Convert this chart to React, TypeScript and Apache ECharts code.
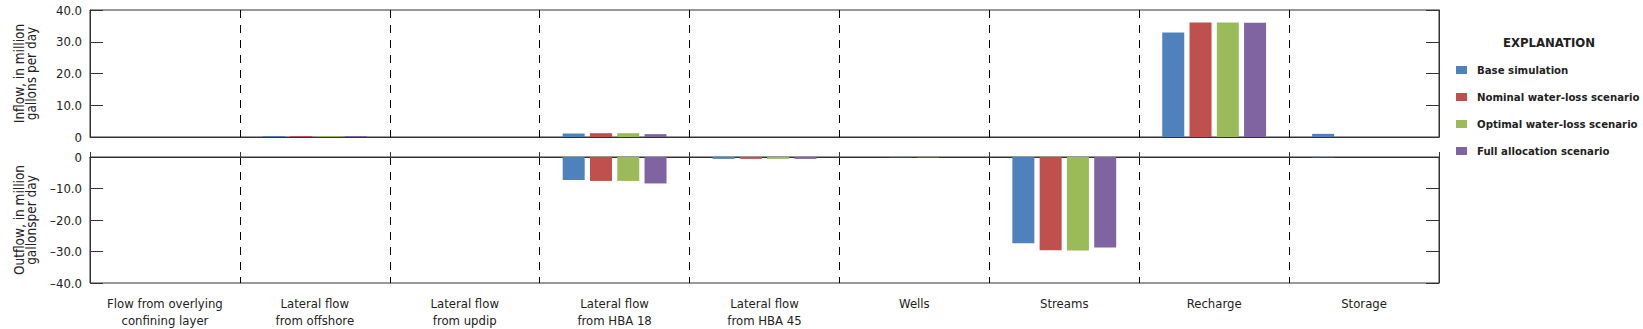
import React, { useEffect, useRef } from "react";
import * as echarts from "echarts";

const categories = [
  "Flow from overlying\nconfining layer",
  "Lateral flow\nfrom offshore",
  "Lateral flow\nfrom updip",
  "Lateral flow\nfrom HBA 18",
  "Lateral flow\nfrom HBA 45",
  "Wells",
  "Streams",
  "Recharge",
  "Storage",
];

const seriesNames = [
  "Base simulation",
  "Nominal water-loss scenario",
  "Optimal water-loss scenario",
  "Full allocation scenario",
];
const colors = ["#4F81BD", "#C0504D", "#9BBB59", "#8064A2"];

const baseInflow = [0, 0.3, 0, 1.1, 0, 0, 0, 32.9, 1.0];
const nominalInflow = [0, 0.3, 0, 1.2, 0, 0, 0, 36.1, 0];
const optimalInflow = [0, 0.3, 0, 1.2, 0, 0, 0, 36.1, 0];
const fullInflow = [0, 0.3, 0, 0.9, 0, 0, 0, 36.0, 0];

const baseOutflow = [0, 0, 0, -7.3, -0.6, 0, -27.4, 0, -0.1];
const nominalOutflow = [0, 0, 0, -7.6, -0.6, -0.1, -29.6, 0, 0];
const optimalOutflow = [0, 0, 0, -7.6, -0.6, -0.1, -29.7, 0, 0];
const fullOutflow = [0, 0, 0, -8.4, -0.6, 0, -28.7, 0, 0];

const inflowTicks = [0, 10, 20, 30, 40];
const outflowTicks = [-40, -30, -20, -10, 0];

const FONT = '"Liberation Sans Narrow", "DejaVu Sans Condensed", "Arial Narrow", sans-serif';
const TEXT = "#222";
const LINE = "#333";

const fmt = (v: number) => (v === 0 ? "0" : (v < 0 ? "\u2013" : "") + Math.abs(v).toFixed(1));

export default function App() {
  const ref = useRef<HTMLDivElement>(null);
  useEffect(() => {
    document.body.style.margin = "0";
    if (!ref.current) return;
    const chart = echarts.init(ref.current, undefined, { renderer: "svg" });

    const inflowData = [baseInflow, nominalInflow, optimalInflow, fullInflow];
    const outflowData = [baseOutflow, nominalOutflow, optimalOutflow, fullOutflow];

    const catAxis = (gridIndex: number, showLabels: boolean) => ({
      type: "category",
      gridIndex,
      data: categories,
      axisLine: { show: true, lineStyle: { color: LINE, width: 1 } },
      axisTick: { show: showLabels, inside: true, length: 5, lineStyle: { color: LINE } },
      axisLabel: {
        show: showLabels,
        interval: 0,
        margin: 12,
        fontFamily: FONT,
        fontSize: 13,
        lineHeight: 17,
        color: TEXT,
      },
      splitLine: { show: true, lineStyle: { color: "#000", width: 1, type: [8, 7] } },
    });

    const valAxis = (gridIndex: number, min: number, max: number, position: string, name: string) => ({
      type: "value",
      gridIndex,
      min,
      max,
      interval: 10,
      position,
      name,
      nameLocation: "middle",
      nameGap: 53,
      nameRotate: 90,
      nameTextStyle: { fontFamily: FONT, fontSize: 13.5, color: TEXT, lineHeight: 12 },
      axisLine: { show: true, lineStyle: { color: LINE, width: 1 } },
      axisTick: { show: true, inside: true, length: 13, lineStyle: { color: LINE } },
      axisLabel: {
        show: position === "left",
        margin: 8,
        fontFamily: FONT,
        fontSize: 13,
        color: TEXT,
        formatter: (v: number) => fmt(v),
      },
      splitLine: { show: false },
    });

    const series: any[] = [];
    seriesNames.forEach((n, i) => {
      series.push({
        name: n,
        type: "bar",
        xAxisIndex: 0,
        yAxisIndex: 0,
        data: inflowData[i],
        barWidth: 22,
        barGap: "24%",
        itemStyle: { color: colors[i] },
      });
    });
    seriesNames.forEach((n, i) => {
      series.push({
        name: n,
        type: "bar",
        xAxisIndex: 1,
        yAxisIndex: 2,
        data: outflowData[i],
        barWidth: 22,
        barGap: "24%",
        itemStyle: { color: colors[i] },
      });
    });

    chart.setOption({
      animation: false,
      backgroundColor: "#fff",
      grid: [
        { left: 90, top: 10, width: 1349, height: 127, show: true, borderColor: LINE, borderWidth: 1 },
        { left: 90, top: 157, width: 1349, height: 128, show: true, borderColor: LINE, borderWidth: 1 },
      ],
      xAxis: [catAxis(0, false), catAxis(1, true)],
      yAxis: [
        valAxis(0, inflowTicks[0], inflowTicks[inflowTicks.length - 1], "left", "Inflow, in million\ngallons per day"),
        valAxis(0, inflowTicks[0], inflowTicks[inflowTicks.length - 1], "right", ""),
        valAxis(1, outflowTicks[0], outflowTicks[outflowTicks.length - 1], "left", "Outflow, in million\ngallonsper day"),
        valAxis(1, outflowTicks[0], outflowTicks[outflowTicks.length - 1], "right", ""),
      ],
      legend: {
        data: seriesNames,
        orient: "vertical",
        left: 1456,
        top: 63,
        padding: 0,
        itemWidth: 11,
        itemHeight: 8,
        itemGap: 13,
        icon: "rect",
        textStyle: {
          fontFamily: FONT,
          fontSize: 11.3,
          lineHeight: 14,
          fontWeight: "bold",
          color: TEXT,
          padding: [0, 0, 0, 5],
        },
      },
      graphic: [
        {
          type: "text",
          left: 1503,
          top: 36,
          style: {
            text: "EXPLANATION",
            font: `bold 13px ${FONT}`,
            fill: TEXT,
          },
        },
      ],
      series,
    });
    return () => chart.dispose();
  }, []);
  return <div ref={ref} style={{ width: 1643, height: 329 }} />;
}
